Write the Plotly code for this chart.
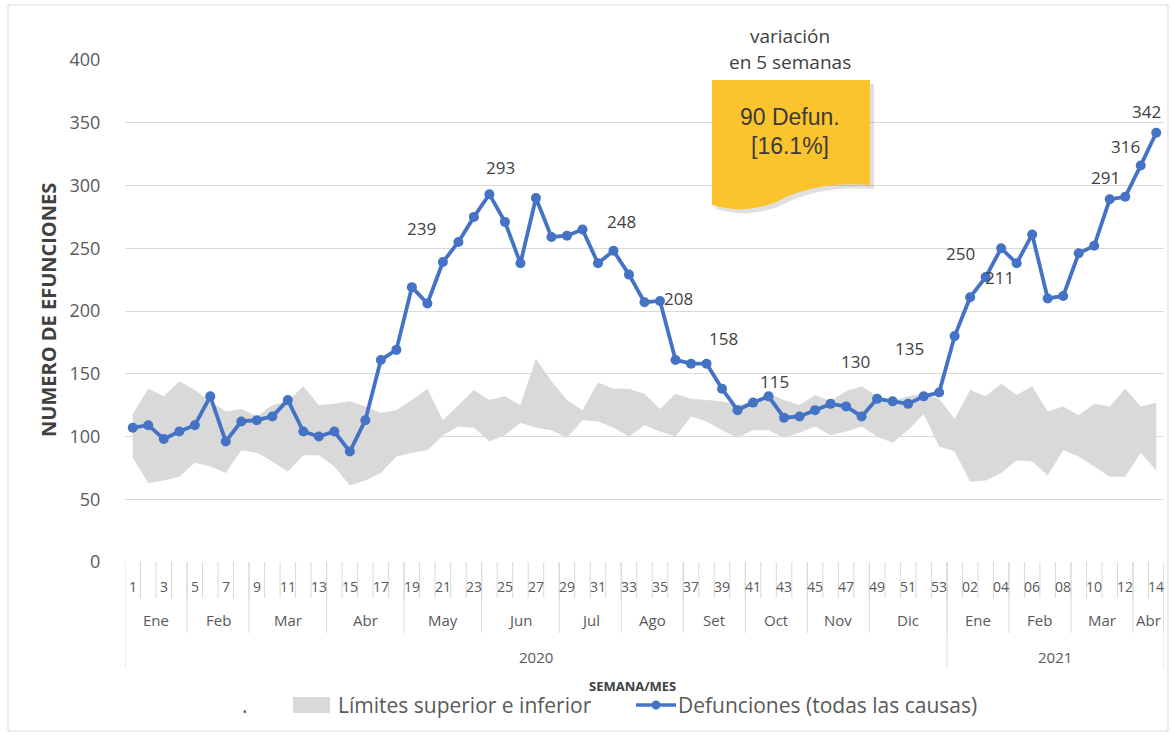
import plotly.graph_objects as go

# ---------------- data ----------------
week_labels = ["1", "2", "3", "4", "5", "6", "7", "8", "9", "10", "11", "12", "13", "14", "15",
               "16", "17", "18", "19", "20", "21", "22", "23", "24", "25", "26", "27", "28", "29",
               "30", "31", "32", "33", "34", "35", "36", "37", "38", "39", "40", "41", "42", "43",
               "44", "45", "46", "47", "48", "49", "50", "51", "52", "53",
               "01", "02", "03", "04", "05", "06", "07", "08", "09", "10", "11", "12", "13", "14"]

deaths = [107, 109, 98, 104, 109, 132, 96, 112, 113, 116, 129, 104, 100, 104, 88, 113, 161, 169,
          219, 206, 239, 255, 275, 293, 271, 238, 290, 259, 260, 265, 238, 248, 229, 207, 208,
          161, 158, 158, 138, 121, 127, 132, 115, 116, 121, 126, 124, 116, 130, 128, 126, 132, 135,
          180, 211, 227, 250, 238, 261, 210, 212, 246, 252, 289, 291, 316, 342]

upper = [118, 138, 132, 144, 137, 128, 120, 122, 116, 125, 128, 140, 125, 126, 128, 124, 119, 121,
         129, 138, 113, 125, 137, 129, 132, 125, 162, 144, 129, 121, 143, 138, 138, 134, 122,
         134, 130, 129, 128, 125, 128, 134, 129, 125, 133, 128, 136, 140, 132, 128, 132, 134, 130,
         114, 137, 132, 142, 133, 140, 120, 124, 117, 126, 124, 138, 124, 127]

lower = [83, 63, 65, 68, 79, 76, 71, 89, 87, 80, 72, 85, 85, 76, 61, 65, 71, 84,
         87, 89, 101, 108, 107, 96, 101, 111, 107, 105, 99, 113, 112, 107, 100, 109, 104,
         100, 116, 112, 105, 99, 105, 105, 99, 103, 108, 101, 104, 108, 100, 95, 105, 118, 92,
         88, 64, 65, 71, 81, 80, 69, 89, 84, 76, 68, 68, 87, 73]

months = ["Ene", "Feb", "Mar", "Abr", "May", "Jun", "Jul", "Ago", "Set", "Oct", "Nov", "Dic",
          "Ene", "Feb", "Mar", "Abr"]
month_weeks = [4, 4, 5, 5, 5, 5, 4, 4, 4, 4, 4, 5, 4, 4, 4, 2]
years = ["2020", "2021"]
year_weeks = [53, 14]

# indices of points carrying a data label
labelled_points = [20, 23, 31, 34, 37, 42, 48, 52, 56, 54, 64, 65, 66]

series_names = [".", "Límites superior e inferior", "Defunciones (todas las causas)"]
callout_title = ["variación", "en 5 semanas"]
callout_text = ["90 Defun.", "[16.1%]"]

# ---------------- layout helpers ----------------
W, H = 1173, 736
PL, PR, PT, PB = 125, 1164, 60, 562  # plot area in px


def fx(px):
    return (px - PL) / (PR - PL)


def fy(py):
    return (PB - py) / (PB - PT)


def P(px, py):
    return f"{fx(px):.5f},{fy(py):.5f}"


# label text placement (x in category index, y in value units)
label_pos = [(18.6, 266), (23.7, 314), (31.5, 271), (35.2, 210), (38.1, 178), (41.4, 144),
             (46.6, 160), (50.1, 170), (53.4, 246), (55.9, 227), (62.7, 306), (64.0, 331),
             (65.4, 359)]

n = len(deaths)
xs = list(range(n))

TXT = "#595959"
DARK = "#404040"
GRID = "#d9d9d9"
BAND = "#d9d9d9"
BLUE = "#4472C4"
FONT = "Open Sans"

fig = go.Figure()

fig.add_trace(go.Scatter(x=xs, y=lower, mode="lines", line=dict(width=0, color="rgba(0,0,0,0)"),
                         name=series_names[0], showlegend=False, hoverinfo="skip"))
fig.add_trace(go.Scatter(x=xs, y=upper, mode="lines", line=dict(width=0, color=BAND),
                         fill="tonexty", fillcolor=BAND, name=series_names[1], showlegend=False))
fig.add_trace(go.Scatter(x=xs, y=deaths, mode="lines+markers",
                         line=dict(color=BLUE, width=3.8),
                         marker=dict(size=10, color=BLUE),
                         name=series_names[2], showlegend=False))

annotations = []
shapes = []


def ann(**kw):
    d = dict(showarrow=False, xanchor="center", yanchor="middle")
    d.update(kw)
    annotations.append(d)


# data labels
for idx, (lx, ly) in zip(labelled_points, label_pos):
    ann(x=lx, y=ly, xref="x", yref="y", text=str(deaths[idx]),
        font=dict(family=FONT, size=17, color=DARK))

# week labels (every other)
for i in range(0, n, 2):
    ann(x=i, y=fy(586), xref="x", yref="paper", text=week_labels[i],
        font=dict(family=FONT, size=14, color=TXT))

# week separators
for i in range(n - 1):
    shapes.append(dict(type="line", xref="x", yref="paper", x0=i + 0.5, x1=i + 0.5,
                       y0=fy(562), y1=fy(598), line=dict(color=GRID, width=1)))

# month labels & separators
start = 0
for m, cnt in zip(months, month_weeks):
    end = start + cnt
    ann(x=(start + end - 1) / 2, y=fy(620), xref="x", yref="paper", text=m,
        font=dict(family=FONT, size=15, color=TXT))
    shapes.append(dict(type="line", xref="x", yref="paper", x0=end - 0.5, x1=end - 0.5,
                       y0=fy(562), y1=fy(633), line=dict(color=GRID, width=1)))
    start = end

# year labels & separators
start = 0
shapes.append(dict(type="line", xref="x", yref="paper", x0=-0.5, x1=-0.5,
                   y0=fy(562), y1=fy(668), line=dict(color=GRID, width=1)))
for yv, cnt in zip(years, year_weeks):
    end = start + cnt
    ann(x=(start + end - 1) / 2, y=fy(657), xref="x", yref="paper", text=yv,
        font=dict(family=FONT, size=15, color=TXT))
    shapes.append(dict(type="line", xref="x", yref="paper", x0=end - 0.5, x1=end - 0.5,
                       y0=fy(562), y1=fy(668), line=dict(color=GRID, width=1)))
    start = end

# axis titles
ann(x=fx(632), y=fy(686), xref="paper", yref="paper", text="<b>SEMANA/MES</b>",
    font=dict(family=FONT, size=13, color=DARK))
ann(x=fx(48), y=fy(310), xref="paper", yref="paper",
    text="<b>NUMERO DE EFUNCIONES</b>", textangle=-90,
    font=dict(family=FONT, size=20, color=DARK))

# legend (drawn manually)
ann(x=fx(245), y=fy(705), xref="paper", yref="paper", text=series_names[0],
    font=dict(family=FONT, size=21, color=TXT))
shapes.append(dict(type="rect", xref="paper", yref="paper", x0=fx(293), x1=fx(330),
                   y0=fy(713), y1=fy(697), fillcolor=BAND, line=dict(width=0)))
ann(x=fx(336), y=fy(705), xref="paper", yref="paper", text=series_names[1],
    xanchor="left", font=dict(family=FONT, size=21, color=TXT))
shapes.append(dict(type="line", xref="paper", yref="paper", x0=fx(636), x1=fx(676),
                   y0=fy(705), y1=fy(705), line=dict(color=BLUE, width=3.5)))
shapes.append(dict(type="circle", xref="paper", yref="paper", x0=fx(651.5), x1=fx(660.5),
                   y0=fy(709.5), y1=fy(700.5), fillcolor=BLUE, line=dict(width=0)))
ann(x=fx(676), y=fy(705), xref="paper", yref="paper", text=series_names[2],
    xanchor="left", font=dict(family=FONT, size=21, color=TXT))

# callout
for t, py in zip(callout_title, [36, 62]):
    ann(x=fx(790), y=fy(py), xref="paper", yref="paper", text=t,
        font=dict(family=FONT, size=19, color=DARK))

box = (f"M {P(712, 80)} L {P(870, 80)} L {P(870, 185)} "
       f"C {P(830, 182)} {P(800, 190)} {P(780, 200)} "
       f"C {P(760, 210)} {P(735, 212)} {P(712, 205)} Z")
shadow = (f"M {P(716, 84)} L {P(874, 84)} L {P(874, 189)} "
          f"C {P(834, 186)} {P(804, 194)} {P(784, 204)} "
          f"C {P(764, 214)} {P(739, 216)} {P(716, 209)} Z")
shapes.append(dict(type="path", xref="paper", yref="paper", path=shadow,
                   fillcolor="rgba(0,0,0,0.12)", line=dict(width=0), layer="above"))
shapes.append(dict(type="path", xref="paper", yref="paper", path=box,
                   fillcolor="#FCC42C", line=dict(width=0), layer="above"))
for t, py in zip(callout_text, [117, 146]):
    ann(x=fx(790), y=fy(py), xref="paper", yref="paper", text=t,
        font=dict(family="Liberation Sans", size=23, color="#3a3a3a"))

# outer border
shapes.append(dict(type="rect", xref="paper", yref="paper", x0=fx(8), x1=fx(1168),
                   y0=fy(731), y1=fy(5), line=dict(color=GRID, width=1), layer="below"))

fig.update_layout(
    width=W, height=H,
    margin=dict(l=PL, r=W - PR, t=PT, b=H - PB, autoexpand=False),
    paper_bgcolor="white", plot_bgcolor="white",
    xaxis=dict(range=[-0.5, n - 0.5], showgrid=False, showticklabels=False, zeroline=False,
               showline=False, fixedrange=True),
    yaxis=dict(range=[0, 400], dtick=50, showgrid=True, gridcolor=GRID, gridwidth=1,
               zeroline=False, showline=False, ticks="outside", ticklen=20,
               tickcolor="rgba(0,0,0,0)",
               tickfont=dict(family=FONT, size=18, color=TXT)),
    showlegend=False,
    annotations=annotations,
    shapes=shapes,
)

fig.write_html("out.html", config={"displayModeBar": False},
               post_script="document.body.style.margin='0px';document.body.style.overflow='hidden';")
